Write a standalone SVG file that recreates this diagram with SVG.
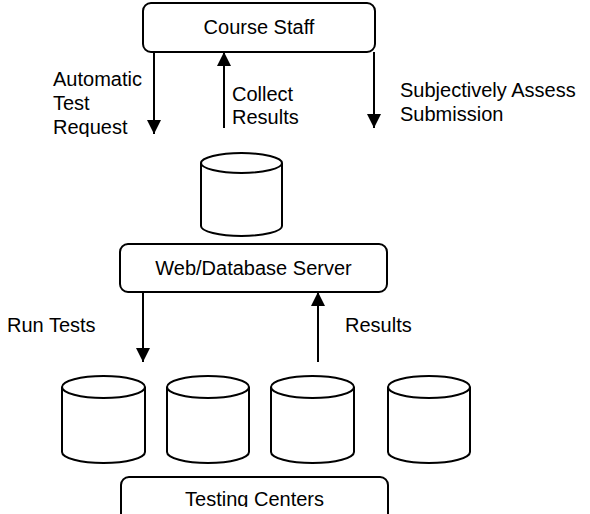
<svg xmlns="http://www.w3.org/2000/svg" width="590" height="514" viewBox="0 0 590 514">
<style>
.box{fill:#fff;stroke:#000;stroke-width:2}
.cyl{fill:#fff;stroke:#000;stroke-width:2}
.t{font-family:"Liberation Sans",Arial,sans-serif;font-size:20px;fill:#000}
.c{text-anchor:middle}
.ln{stroke:#000;stroke-width:2;fill:none}
</style>
<defs>
<marker id="ah" viewBox="0 0 14 14" markerWidth="14" markerHeight="14" refX="14" refY="7" orient="auto" markerUnits="userSpaceOnUse">
<path d="M0,0 L14,7 L0,14 Z" fill="#000"/>
</marker>
<clipPath id="clipReq"><rect x="0" y="0" width="590" height="137"/></clipPath>
<clipPath id="clipTC"><rect x="0" y="0" width="590" height="507"/></clipPath>
</defs>
<rect width="590" height="514" fill="#fff"/>
<g id="course-staff">
<rect class="box" x="143" y="3" width="232" height="49" rx="8"/>
<text class="t c" x="259" y="34">Course Staff</text>
</g>
<g id="db-cylinder">
<path class="cyl" d="M201,163 L201,226 A40.5,10 0 0 0 282,226 L282,163"/>
<ellipse class="cyl" cx="241.5" cy="163" rx="40.5" ry="10"/>
</g>
<g id="web-server">
<rect class="box" x="120" y="244" width="267" height="48" rx="8"/>
<text class="t c" x="253.5" y="275">Web/Database Server</text>
</g>
<g id="tc1">
<path class="cyl" d="M62,387 L62,452 A41.5,11 0 0 0 145,452 L145,387"/>
<ellipse class="cyl" cx="103.5" cy="387" rx="41.5" ry="11"/>
</g>
<g id="tc2">
<path class="cyl" d="M167,387 L167,452 A41,11 0 0 0 249,452 L249,387"/>
<ellipse class="cyl" cx="208" cy="387" rx="41" ry="11"/>
</g>
<g id="tc3">
<path class="cyl" d="M271,387 L271,452 A41.5,11 0 0 0 354,452 L354,387"/>
<ellipse class="cyl" cx="312.5" cy="387" rx="41.5" ry="11"/>
</g>
<g id="tc4">
<path class="cyl" d="M388,387 L388,452 A41,11 0 0 0 470,452 L470,387"/>
<ellipse class="cyl" cx="429" cy="387" rx="41" ry="11"/>
</g>
<g id="testing-centers">
<rect class="box" x="121" y="477" width="267" height="50" rx="8"/>
<text class="t c" x="254.5" y="506" clip-path="url(#clipTC)">Testing Centers</text>
</g>
<g id="connectors">
<line class="ln" x1="154" y1="52" x2="154" y2="134" marker-end="url(#ah)"/>
<line class="ln" x1="224" y1="128" x2="224" y2="52" marker-end="url(#ah)"/>
<line class="ln" x1="374" y1="52" x2="374" y2="128" marker-end="url(#ah)"/>
<line class="ln" x1="143" y1="292" x2="143" y2="362" marker-end="url(#ah)"/>
<line class="ln" x1="318" y1="362" x2="318" y2="292" marker-end="url(#ah)"/>
</g>
<g id="labels">
<text class="t" x="53" y="86">Automatic</text>
<text class="t" x="53" y="110">Test</text>
<text class="t" x="53" y="134" clip-path="url(#clipReq)">Request</text>
<text class="t" x="232" y="101">Collect</text>
<text class="t" x="232" y="124">Results</text>
<text class="t" x="400" y="97">Subjectively Assess</text>
<text class="t" x="400" y="121">Submission</text>
<text class="t" x="7" y="332">Run Tests</text>
<text class="t" x="345" y="332">Results</text>
</g>
</svg>
